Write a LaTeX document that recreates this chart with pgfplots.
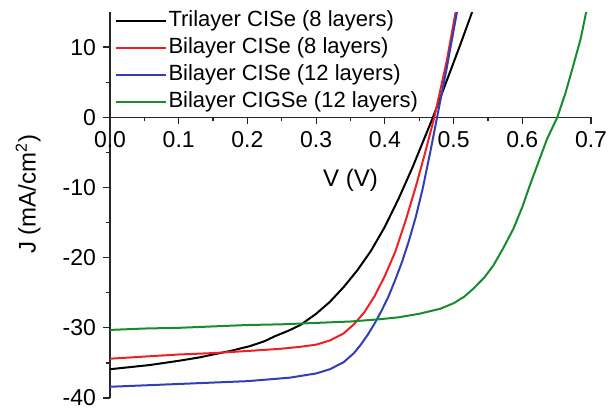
\documentclass[border=0pt]{standalone}
\usepackage{fontspec}
\setmainfont{Liberation Sans}
\usepackage{pgfplots}
\pgfplotsset{compat=1.18}
\definecolor{jvred}{RGB}{238,32,36}
\definecolor{jvblue}{RGB}{50,62,180}
\definecolor{jvgreen}{RGB}{24,140,44}
\begin{document}
\begin{tikzpicture}
\useasboundingbox (0,0) rectangle (305pt,204pt);
\begin{axis}[
  at={(55pt,5pt)}, anchor=south west,
  scale only axis, width=240.5pt, height=193pt,
  axis lines=middle,
  axis line style={-, line width=0.6pt, black!85},
  xmin=0, xmax=0.7, ymin=-40, ymax=15,
  xtick={0,0.1,0.2,0.3,0.4,0.5,0.6,0.7},
  ytick={-40,-30,-20,-10,0,10},
  minor x tick num=1, minor y tick num=1,
  tick align=outside,
  major tick length=3.5pt, minor tick length=2pt,
  tick style={line width=0.6pt, black!85},
  hide obscured x ticks=false, hide obscured y ticks=false,
  /pgf/number format/assume math mode=true,
  ticklabel style={font=\fontsize{11.5}{13}\selectfont},
  xticklabel style={/pgf/number format/.cd, fixed, fixed zerofill, precision=1},
  yticklabel style={/pgf/number format/.cd, fixed, precision=0},
  xlabel={V (V)}, ylabel={J (mA/cm\textsuperscript{2})},
  label style={font=\fontsize{12}{14}\selectfont},
  xlabel style={at={(axis cs:0.35,-9)}, anchor=center},
  ylabel style={at={(axis description cs:-0.17,0.528)}, anchor=center, rotate=90},
  legend style={at={(axis cs:0.006,15.6)}, anchor=north west, draw=none, fill=none,
    inner sep=0pt, row sep=1pt, font=\fontsize{11}{13}\selectfont,
    nodes={inner sep=1pt, text height=8pt, text depth=2.5pt}},
  legend cell align=left,
  legend image code/.code={\draw[#1] (0pt,0pt) -- (25pt,0pt);},
  clip=true,
]
% Trilayer CISe (8 layers)
\addplot[black, line width=1pt] coordinates {
(0.00,-35.9) (0.058,-35.3) (0.10,-34.7) (0.131,-34.2) (0.15,-33.8) (0.175,-33.3)
(0.204,-32.6) (0.225,-31.9) (0.24,-31.2) (0.26,-30.4) (0.277,-29.6) (0.30,-28.0)
(0.32,-26.3) (0.34,-24.2) (0.36,-21.8) (0.38,-19.0) (0.40,-15.6) (0.42,-11.6)
(0.44,-7.2) (0.455,-3.6) (0.470,0) (0.49,5.2) (0.51,10.4) (0.527,15)
};
\addlegendentry{Trilayer CISe (8 layers)}
% Bilayer CISe (8 layers)
\addplot[jvred, line width=1pt] coordinates {
(0.00,-34.4) (0.05,-34.1) (0.10,-33.8) (0.15,-33.6) (0.20,-33.3) (0.247,-33.0)
(0.277,-32.7) (0.30,-32.4) (0.32,-31.8) (0.34,-30.8) (0.355,-29.5) (0.37,-27.8)
(0.385,-25.5) (0.40,-22.6) (0.415,-19.2) (0.43,-14.8) (0.445,-9.9) (0.459,-4.9)
(0.472,0) (0.49,8.0) (0.503,15)
};
\addlegendentry{Bilayer CISe (8 layers)}
% Bilayer CISe (12 layers)
\addplot[jvblue, line width=1pt] coordinates {
(0.00,-38.4) (0.05,-38.2) (0.10,-38.0) (0.15,-37.8) (0.20,-37.6) (0.262,-37.1)
(0.30,-36.5) (0.32,-35.9) (0.34,-34.9) (0.355,-33.6) (0.365,-32.4) (0.375,-31.0)
(0.385,-29.4) (0.395,-27.6) (0.405,-25.6) (0.415,-23.2) (0.425,-20.6) (0.435,-17.6)
(0.445,-14.2) (0.455,-10.2) (0.466,-5.0) (0.476,0) (0.49,7.0) (0.505,15)
};
\addlegendentry{Bilayer CISe (12 layers)}
% Bilayer CIGSe (12 layers)
\addplot[jvgreen, line width=1pt] coordinates {
(0.00,-30.3) (0.05,-30.1) (0.10,-30.0) (0.15,-29.8) (0.20,-29.6) (0.25,-29.5)
(0.30,-29.3) (0.35,-29.1) (0.39,-28.8) (0.42,-28.5) (0.45,-28.0) (0.48,-27.3)
(0.50,-26.5) (0.515,-25.6) (0.529,-24.4) (0.545,-22.8) (0.558,-21.1) (0.572,-18.7)
(0.587,-15.9) (0.60,-12.8) (0.611,-9.7) (0.625,-6.0) (0.636,-3.1) (0.651,0)
(0.663,3.5) (0.674,7.3) (0.685,11.2) (0.693,15)
};
\addlegendentry{Bilayer CIGSe (12 layers)}
\end{axis}
\end{tikzpicture}
\end{document}
